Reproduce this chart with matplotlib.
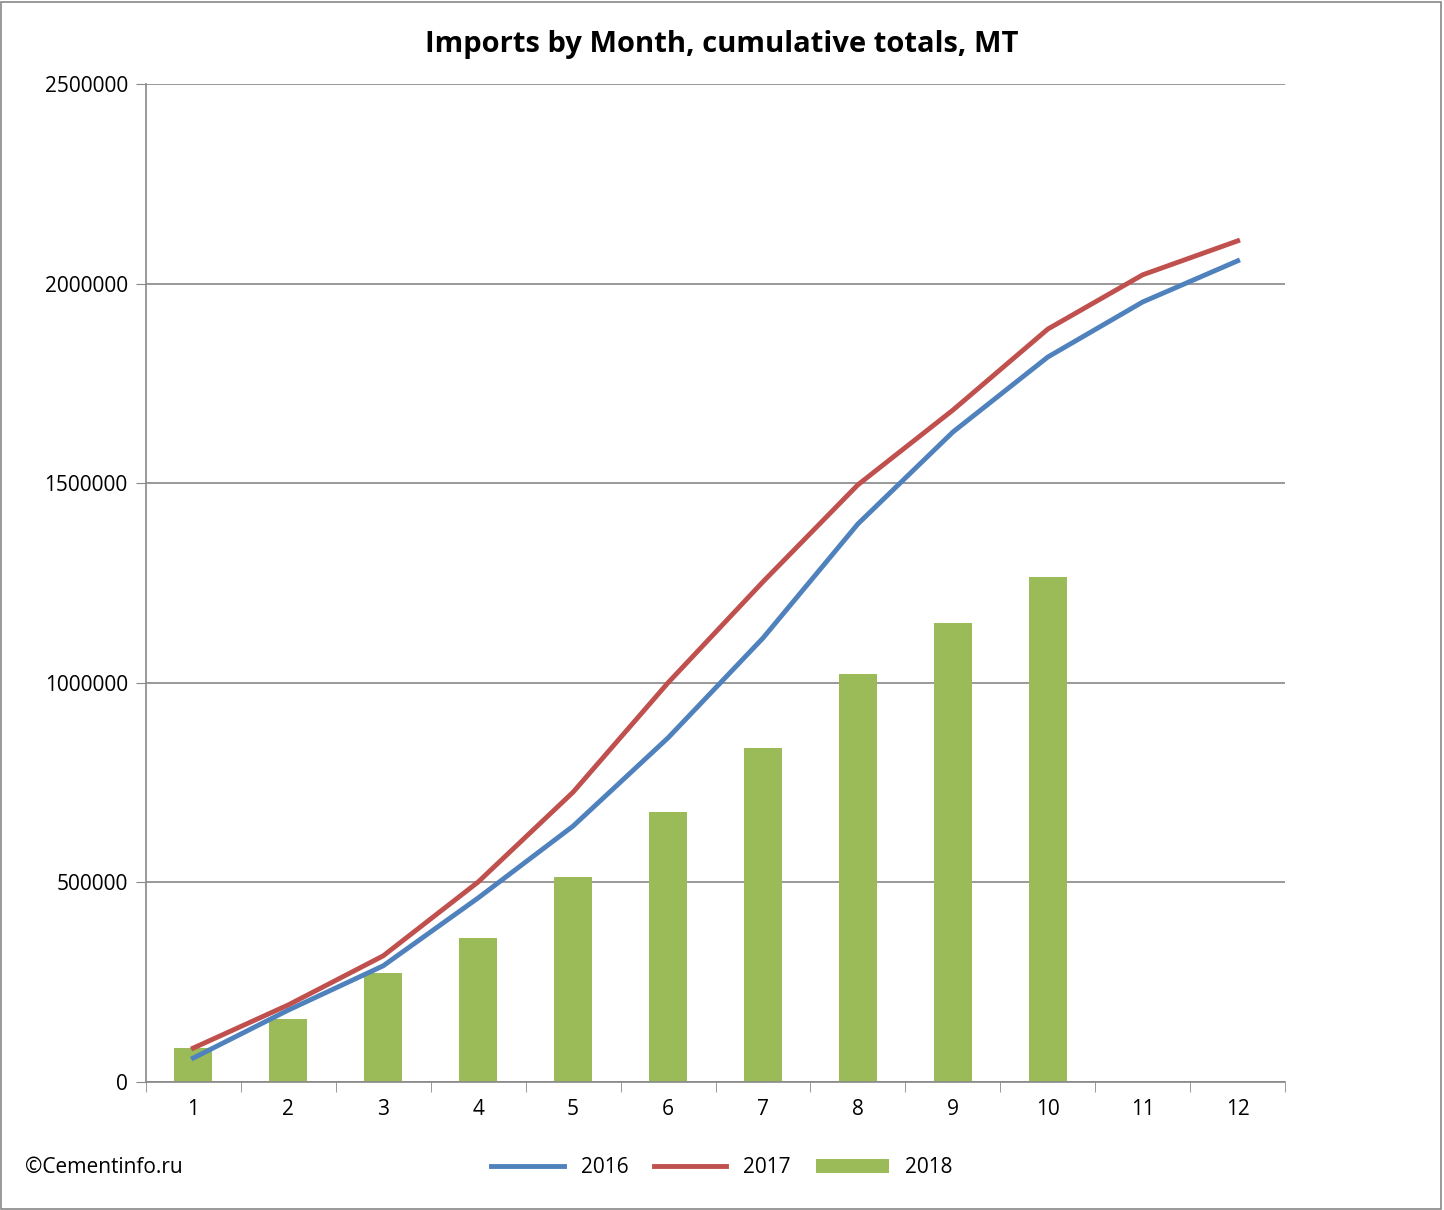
import matplotlib
matplotlib.use("Agg")
import matplotlib.pyplot as plt
from matplotlib.lines import Line2D
from matplotlib.patches import Rectangle

months = list(range(1, 13))
imports_2018 = [85000, 158000, 273000, 361000, 513000, 676000, 837000, 1022000, 1150000, 1265000]
imports_2016 = [60000, 180000, 291000, 461000, 641000, 862000, 1112000, 1398000, 1628000, 1816000, 1954000, 2057000]
imports_2017 = [85000, 193000, 316000, 501000, 726000, 1000000, 1253000, 1496000, 1683000, 1886000, 2022000, 2107000]
yticks = [0, 500000, 1000000, 1500000, 2000000, 2500000]

plt.rcParams["font.family"] = "Open Sans"
fig = plt.figure(figsize=(14.44, 12.1), dpi=100)
ax = fig.add_axes([0.101, 0.1058, 0.789, 0.8248])

ax.bar(months[:len(imports_2018)], imports_2018, width=0.4, color="#9BBB59", zorder=2, label="2018")
ax.plot(months, imports_2016, color="#4F81BD", lw=3.5, zorder=3, label="2016")
ax.plot(months, imports_2017, color="#C0504D", lw=3.5, zorder=3, label="2017")

ax.set_xlim(0.5, 12.5)
ax.set_ylim(0, 2500000)
ax.set_yticks(yticks)
ax.set_yticklabels([str(v) for v in yticks], fontsize=15)
ax.set_xticks(months)
ax.set_xticklabels([str(m) for m in months], fontsize=15)
ax.set_xticks([m + 0.5 for m in range(0, 13)], minor=True)
ax.tick_params(axis="x", which="major", length=0, pad=12)
ax.tick_params(axis="x", which="minor", length=7, color="#888888")
ax.tick_params(axis="y", length=7, color="#888888", pad=6)
ax.grid(axis="y", color="#888888", lw=1.2, zorder=0)
for s in ["top", "right"]:
    ax.spines[s].set_visible(False)
for s in ["left", "bottom"]:
    ax.spines[s].set_color("#888888")
    ax.spines[s].set_linewidth(1.2)

fig.suptitle("Imports by Month, cumulative totals, MT", fontsize=21, fontweight="bold", y=0.975)
fig.text(0.017, 0.035, "©Cementinfo.ru", fontsize=15, va="center")
ax.legend(loc="center", bbox_to_anchor=(0.5, -0.09 - 0.0), bbox_transform=fig.transFigure,
          ncol=3, frameon=False, fontsize=15, handlelength=3.5, columnspacing=1.2)
leg = ax.get_legend()
leg.set_bbox_to_anchor((0.5, 0.035), transform=fig.transFigure)
fig.patches.append(Rectangle((0.001, 0.001), 0.997, 0.997, transform=fig.transFigure,
                             fill=False, edgecolor="#888888", lw=1.2))
fig.savefig("out.png", dpi=100)
